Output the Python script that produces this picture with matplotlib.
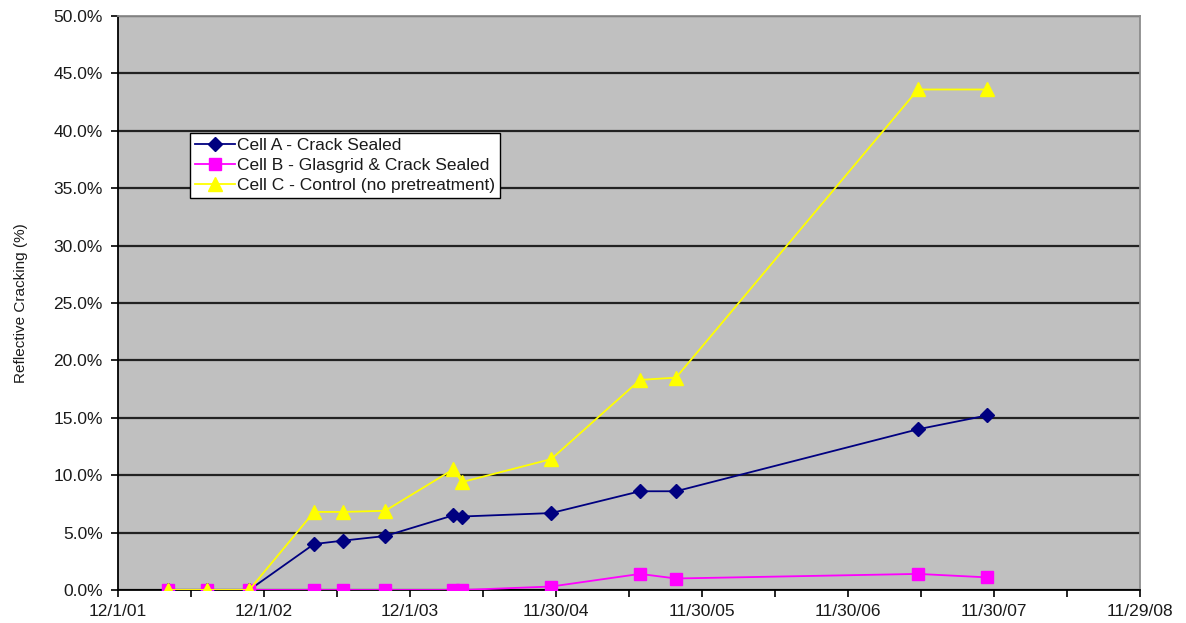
import datetime as dt
import matplotlib
matplotlib.use("Agg")
import matplotlib.pyplot as plt
from matplotlib.ticker import PercentFormatter, MultipleLocator

plt.rcParams['font.family'] = ['Liberation Sans', 'DejaVu Sans']

# Survey dates
survey_dates = [
    "2002-04-05", "2002-07-11", "2002-10-25", "2003-04-05", "2003-06-17",
    "2003-09-30", "2004-03-18", "2004-04-09", "2004-11-18", "2005-06-28",
    "2005-09-26", "2007-05-24", "2007-11-12",
]

# Reflective cracking (%) per cell
cell_a = [0.0, 0.0, 0.0, 4.0, 4.3, 4.7, 6.5, 6.4, 6.7, 8.6, 8.6, 14.0, 15.2]
cell_b = [0.0, 0.0, 0.0, 0.0, 0.0, 0.0, 0.0, 0.0, 0.3, 1.4, 1.0, 1.4, 1.1]
cell_c = [0.0, 0.0, 0.0, 6.8, 6.8, 6.9, 10.5, 9.4, 11.4, 18.3, 18.5, 43.6, 43.6]

series_labels = [
    "Cell A - Crack Sealed",
    "Cell B - Glasgrid & Crack Sealed",
    "Cell C - Control (no pretreatment)",
]

x_tick_labels = ["12/1/01", "12/1/02", "12/1/03", "11/30/04",
                 "11/30/05", "11/30/06", "11/30/07", "11/29/08"]

dates = [dt.datetime.strptime(s, "%Y-%m-%d") for s in survey_dates]
tick_dates = [dt.datetime.strptime(s, "%m/%d/%y") for s in x_tick_labels]

fig = plt.figure(figsize=(11.86, 6.23), dpi=100)
ax = fig.add_axes([0.0995, 0.053, 0.8617, 0.9213])
ax.set_facecolor("#C0C0C0")

ax.plot(dates, cell_a, color="#000080", lw=1.3, marker="D", ms=7,
        mfc="#000080", mec="#000080", label=series_labels[0], zorder=3)
ax.plot(dates, cell_b, color="#FF00FF", lw=1.3, marker="s", ms=8.5,
        mfc="#FF00FF", mec="#FF00FF", label=series_labels[1], zorder=4)
ax.plot(dates, cell_c, color="#FFFF00", lw=1.3, marker="^", ms=10,
        mfc="#FFFF00", mec="#FFFF00", label=series_labels[2], zorder=5)

# Axes limits and ticks
ax.set_xlim(tick_dates[0], tick_dates[-1])
ax.set_ylim(0, 50)
ax.set_xticks(tick_dates)
ax.set_xticklabels(x_tick_labels)
minor = [tick_dates[i] + (tick_dates[i + 1] - tick_dates[i]) / 2
         for i in range(len(tick_dates) - 1)]
ax.set_xticks(minor, minor=True)
ax.yaxis.set_major_locator(MultipleLocator(5))
ax.yaxis.set_major_formatter(PercentFormatter(xmax=100, decimals=1))

ax.tick_params(axis="both", which="both", direction="out", length=5,
               width=1.2, color="black", labelsize=12.5, labelcolor="#1a1a1a")
ax.tick_params(axis="x", which="major", pad=5)
ax.tick_params(axis="y", which="major", pad=6)

ax.grid(axis="y", color="#222222", lw=1.6, zorder=1)
ax.set_axisbelow(True)

for side in ("left", "bottom"):
    ax.spines[side].set_color("black")
    ax.spines[side].set_linewidth(1.3)
for side in ("top", "right"):
    ax.spines[side].set_color("#8c8c8c")
    ax.spines[side].set_linewidth(1.3)

ax.set_ylabel("Reflective Cracking (%)", fontsize=11, color="#1a1a1a", labelpad=18)

leg = ax.legend(loc="upper left", bbox_to_anchor=(0.07, 0.797),
                fontsize=12.5, frameon=True, fancybox=False, framealpha=1,
                edgecolor="black", handlelength=2.3, handletextpad=0.15,
                borderpad=0.3, labelspacing=0.28, borderaxespad=0)
leg.get_frame().set_linewidth(1.0)
for txt in leg.get_texts():
    txt.set_color("#1a1a1a")

fig.savefig("out.png", dpi=100, facecolor="white")
